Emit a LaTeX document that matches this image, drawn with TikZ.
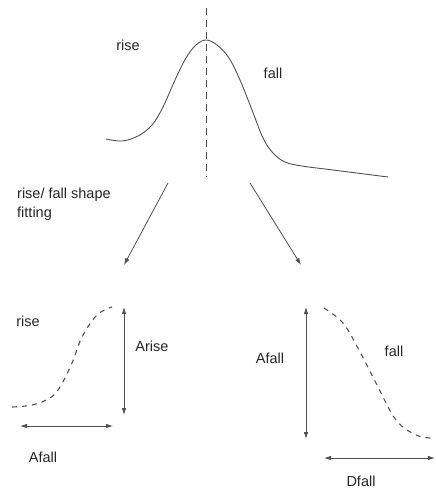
\documentclass[tikz,border=0pt]{standalone}
\usepackage{fontspec}
\setmainfont{Liberation Sans}
\usetikzlibrary{arrows.meta}
\definecolor{ink}{HTML}{505050}
\tikzset{
  lbl/.style={inner sep=0pt, font=\fontsize{14.5}{16}\selectfont, text=black!85},
  curve/.style={draw=ink, line width=0.9pt},
  dcurve/.style={draw=ink, line width=1.1pt, dash pattern=on 5pt off 5pt},
  arr/.style={draw=ink, line width=0.8pt, -{Latex[length=7pt,width=4.5pt]}},
  darr/.style={draw=ink, line width=0.8pt, {Latex[length=7pt,width=4.5pt]}-{Latex[length=7pt,width=4.5pt]}}
}
\begin{document}
\begin{tikzpicture}[x=1pt,y=-1pt]
\useasboundingbox (0,0) rectangle (436,490);
% top pulse
\draw[curve] plot[smooth, tension=0.6] coordinates {(106,139) (122,141) (138,136) (152,125) (163,107) (175,80) (186,58) (196,45) (206,40) (217,45) (229,58) (240,80) (252,110) (263,138) (273,153) (285,162) (302,166) (333,170) (388,177)};
\coordinate (vt) at (206,8);
\coordinate (vb) at (206,177);
\draw[draw=ink, line width=1pt, dash pattern=on 7pt off 5pt] (vt) -- (vb);
\node[lbl] (rise1) at (128,45) {rise};
\node[lbl] (fall1) at (273,73) {fall};
\node[lbl, anchor=west] (fit1) at (17,195) {rise/ fall shape};
\node[lbl, anchor=west] (fit2) at (17,214) {fitting};
% fitting arrows
\coordinate (a1s) at (168,183);
\coordinate (a1e) at (124,265);
\coordinate (a2s) at (250,183);
\coordinate (a2e) at (301,265);
\draw[arr] (a1s) -- (a1e);
\draw[arr] (a2s) -- (a2e);
% bottom left rise
\draw[dcurve] plot[smooth, tension=0.6] coordinates {(12,407) (32,405) (50,398) (60,387) (72,363) (82,337) (97,315) (112,307)};
\coordinate (ar1) at (124,307);
\coordinate (ar2) at (124,415);
\draw[darr] (ar1) -- (ar2);
\coordinate (ah1) at (20,426);
\coordinate (ah2) at (113,426);
\draw[darr] (ah1) -- (ah2);
\node[lbl] (rise2) at (28,321) {rise};
\node[lbl] (arise) at (152,346) {Arise};
\node[lbl] (afall1) at (43,457) {Afall};
% bottom right fall
\draw[dcurve] plot[smooth, tension=0.6] coordinates {(324,308) (343,323) (359,350) (376,383) (396,420) (416,435) (431,438)};
\coordinate (fr1) at (306,307);
\coordinate (fr2) at (306,439);
\draw[darr] (fr1) -- (fr2);
\coordinate (fh1) at (324,458);
\coordinate (fh2) at (435,458);
\draw[darr] (fh1) -- (fh2);
\node[lbl] (afall2) at (270,358) {Afall};
\node[lbl] (fall2) at (394,351) {fall};
\node[lbl] (dfall) at (361,481) {Dfall};
\end{tikzpicture}
\end{document}
